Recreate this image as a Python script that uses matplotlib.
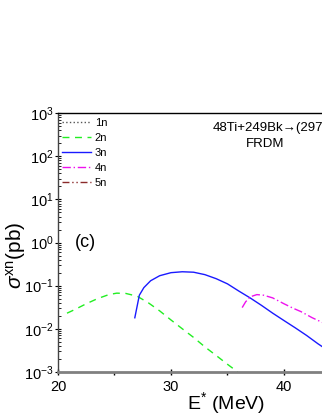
import numpy as np
import matplotlib
matplotlib.use("Agg")
import matplotlib.pyplot as plt

plt.rcParams["font.family"] = ["Liberation Sans", "DejaVu Sans"]
plt.rcParams["mathtext.fontset"] = "custom"
plt.rcParams["mathtext.rm"] = "Liberation Sans"
plt.rcParams["mathtext.it"] = "Liberation Sans:italic"

# values (E* in MeV, cross section in pb)
e_2n = [20.8, 21.5, 22.5, 23.5, 24.5, 25.2, 26.0, 27.0, 28.0, 29.0, 30.0,
        31.0, 32.0, 33.0, 34.0, 35.0, 35.9]
s_2n = [0.023, 0.028, 0.038, 0.050, 0.062, 0.067, 0.066, 0.057, 0.040, 0.026,
        0.016, 0.010, 0.0063, 0.0038, 0.0024, 0.0015, 0.001]

e_3n = [26.8, 27.2, 27.6, 28.2, 29.0, 30.0, 31.0, 32.0, 33.0, 34.0, 35.0,
        36.0, 37.0, 38.0, 39.0, 40.0, 41.0, 42.0, 43.0, 44.0, 45.0]
s_3n = [0.018, 0.060, 0.090, 0.13, 0.17, 0.20, 0.21, 0.205, 0.18, 0.145,
        0.11, 0.075, 0.052, 0.035, 0.023, 0.0155, 0.0105, 0.007, 0.0045,
        0.003, 0.002]

e_4n = [36.3, 36.6, 37.0, 37.6, 38.2, 39.0, 40.0, 40.8, 41.5, 42.5, 43.4, 44.5]
s_4n = [0.031, 0.042, 0.055, 0.062, 0.060, 0.052, 0.038, 0.030, 0.025, 0.018,
        0.014, 0.010]

fig = plt.figure(figsize=(3.22, 4.16), dpi=100)
ax = fig.add_axes([0.180, 0.106, 1.053, 0.622])

ax.plot([], [], color="#555555", linestyle=":", linewidth=1.0, label="1n")
ax.plot(e_2n, s_2n, color="#22ee22", linestyle=(0, (5, 4)), linewidth=1.0, label="2n")
ax.plot(e_3n, s_3n, color="#1a1aff", linestyle="-", linewidth=1.0, label="3n")
ax.plot(e_4n, s_4n, color="#ee11ee", linestyle=(0, (6, 2, 1, 2)), linewidth=1.0, label="4n")
ax.plot([], [], color="#8b2a2a", linestyle=(0, (5, 2, 1, 2, 1, 2)), linewidth=1.0, label="5n")

ax.set_yscale("log")
ax.set_xlim(20, 50)
ax.set_ylim(1e-3, 1e3)
ax.set_xticks([20, 30, 40])
ax.set_xticks([25, 35, 45], minor=True)
ax.set_yticks([1e-3, 1e-2, 1e-1, 1e0, 1e1, 1e2, 1e3])

ax.tick_params(axis="both", labelsize=10.5)
ax.tick_params(axis="y", which="major", direction="inout", length=4, width=0.8, pad=1)
ax.tick_params(axis="y", which="minor", direction="in", length=2, width=0.6)
ax.tick_params(axis="x", which="major", direction="inout", length=5, width=1.0, pad=3)
ax.tick_params(axis="x", which="minor", direction="out", length=2, width=1.0)

ax.spines["bottom"].set_color("#808080")
ax.spines["bottom"].set_linewidth(2.0)
ax.spines["left"].set_color("#444444")
ax.spines["left"].set_linewidth(1.0)
ax.spines["top"].set_linewidth(1.0)

ax.set_xlabel("E$^{*}$ (MeV)", fontsize=14)
ax.xaxis.set_label_coords(0.496, -0.072)
ax.set_ylabel(r"$\sigma^{\rm xn}$(pb)", fontsize=15)
ax.yaxis.set_label_coords(-0.089, 0.45)

ax.legend(loc="upper left", fontsize=8, frameon=False, handlelength=2.6,
          handletextpad=0.3, labelspacing=0.45, borderaxespad=0.2,
          borderpad=0.2)

ax.text(0.455, 0.965, "48Ti+249Bk\u2192(297)119", transform=ax.transAxes,
        fontsize=9.5, va="top", ha="left")
ax.text(0.61, 0.905, "FRDM", transform=ax.transAxes, fontsize=9.5,
        va="top", ha="center")
ax.text(0.05, 0.50, "(c)", transform=ax.transAxes, fontsize=13,
        va="center", ha="left")

fig.savefig("out.png", dpi=100)
